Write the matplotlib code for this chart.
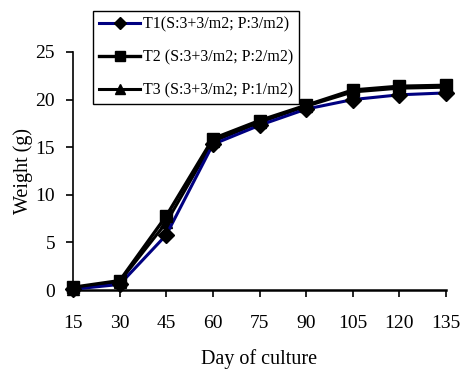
import matplotlib
matplotlib.use("Agg")
import matplotlib.pyplot as plt

days = [15, 30, 45, 60, 75, 90, 105, 120, 135]
t1 = [0.1, 0.6, 5.8, 15.3, 17.3, 19.0, 20.0, 20.5, 20.7]
t2 = [0.3, 1.0, 7.8, 15.9, 17.8, 19.4, 21.0, 21.4, 21.5]
t3 = [0.1, 0.9, 7.1, 15.6, 17.6, 19.3, 20.8, 21.2, 21.3]
labels = ["T1(S:3+3/m2; P:3/m2)", "T2 (S:3+3/m2; P:2/m2)", "T3 (S:3+3/m2; P:1/m2)"]
yticks = [0, 5, 10, 15, 20, 25]

plt.rcParams['font.family'] = ['Liberation Serif', 'DejaVu Serif']

fig = plt.figure(figsize=(4.63, 3.71), dpi=100)
ax = fig.add_axes([0.158, 0.218, 0.805, 0.642])

ax.plot(days, t1, color='#000080', lw=2.2, marker='D', ms=8, mfc='black', mec='black', label=labels[0], zorder=3)
ax.plot(days, t2, color='black', lw=2.4, marker='s', ms=9, mfc='black', mec='black', label=labels[1], zorder=4)
ax.plot(days, t3, color='black', lw=2.2, marker='^', ms=9, mfc='black', mec='black', label=labels[2], zorder=2)

ax.set_xlim(15, 135)
ax.set_ylim(0, 25)
ax.set_xticks(days)
ax.set_yticks(yticks)
ax.tick_params(labelsize=14, direction='out', length=5, width=1.2)
ax.tick_params(axis='x', pad=13)
ax.tick_params(axis='y', pad=8)
ax.spines['top'].set_visible(False)
ax.spines['right'].set_visible(False)
ax.spines['left'].set_linewidth(1.2)
ax.spines['bottom'].set_linewidth(1.8)
for s in ax.spines.values():
    s.set_clip_on(False)
for ln in ax.lines:
    ln.set_clip_on(False)

ax.set_xlabel('Day of culture', fontsize=14.5, labelpad=12)
ax.set_ylabel('Weight (g)', fontsize=14.5, labelpad=2)

leg = ax.legend(loc='upper left', bbox_to_anchor=(0.054, 1.172), fontsize=11.5,
                frameon=True, fancybox=False, edgecolor='black', framealpha=1,
                handlelength=2.6, handletextpad=0.15, labelspacing=1.05,
                borderpad=0.35, borderaxespad=0, markerscale=0.8)
leg.get_frame().set_linewidth(1)

fig.savefig('out.png', dpi=100)
